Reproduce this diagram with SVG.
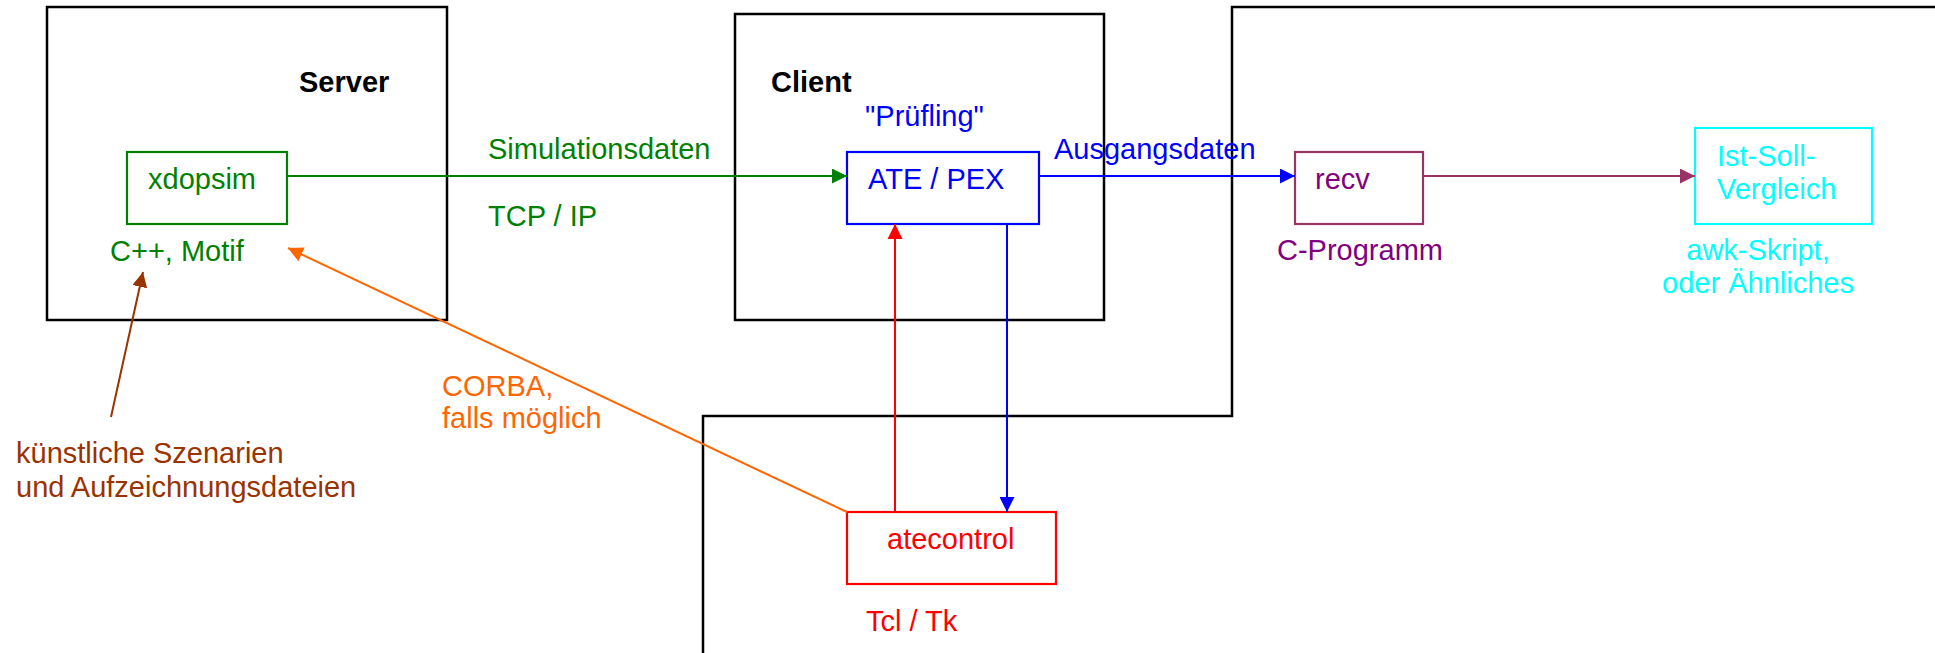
<svg xmlns="http://www.w3.org/2000/svg" width="1935" height="653" viewBox="0 0 1935 653">
<style>
text{font-family:"Liberation Sans",Arial,sans-serif;font-size:29px}
.b{font-weight:bold;fill:#000}
.frame{fill:none;stroke:#000;stroke-width:2.5}
.box{fill:none;stroke-width:2.2}
.c{fill:none;stroke-width:2}
</style>
<defs>
<marker id="aG" viewBox="0 0 15 15" refX="15" refY="7.5" markerWidth="15" markerHeight="15" markerUnits="userSpaceOnUse" orient="auto"><path d="M0,0L15,7.5L0,15z" fill="#008000"/></marker>
<marker id="aB" viewBox="0 0 15 15" refX="15" refY="7.5" markerWidth="15" markerHeight="15" markerUnits="userSpaceOnUse" orient="auto"><path d="M0,0L15,7.5L0,15z" fill="#0000ff"/></marker>
<marker id="aR" viewBox="0 0 15 15" refX="15" refY="7.5" markerWidth="15" markerHeight="15" markerUnits="userSpaceOnUse" orient="auto"><path d="M0,0L15,7.5L0,15z" fill="#ff0000"/></marker>
<marker id="aP" viewBox="0 0 15 15" refX="15" refY="7.5" markerWidth="15" markerHeight="15" markerUnits="userSpaceOnUse" orient="auto"><path d="M0,0L15,7.5L0,15z" fill="#993366"/></marker>
<marker id="aO" viewBox="0 0 15 15" refX="15" refY="7.5" markerWidth="15" markerHeight="15" markerUnits="userSpaceOnUse" orient="auto"><path d="M0,0L15,7.5L0,15z" fill="#ff6600"/></marker>
<marker id="aBr" viewBox="0 0 15 15" refX="15" refY="7.5" markerWidth="15" markerHeight="15" markerUnits="userSpaceOnUse" orient="auto"><path d="M0,0L15,7.5L0,15z" fill="#993300"/></marker>
</defs>

<g id="server">
<rect class="frame" x="47" y="7" width="400" height="313"/>
<text class="b" x="299" y="92">Server</text>
</g>
<g id="client">
<rect class="frame" x="735" y="14" width="369" height="306"/>
<text class="b" x="771" y="92">Client</text>
</g>
<g id="test-area">
<path class="frame" d="M1937,7H1232V416H703V655"/>
</g>

<g id="xdopsim">
<rect class="box" x="127" y="152" width="160" height="72" stroke="#008000"/>
<text x="148" y="189" fill="#008000">xdopsim</text>
<text x="110" y="261" fill="#008000">C++, Motif</text>
</g>
<g id="ate-pex">
<text x="865" y="126" fill="#0000ff">"Prüfling"</text>
<rect class="box" x="847" y="152" width="192" height="72" stroke="#0000ff"/>
<text x="868" y="189" fill="#0000ff">ATE / PEX</text>
</g>
<g id="recv">
<rect class="box" x="1295" y="152" width="128" height="72" stroke="#993366"/>
<text x="1315" y="189" fill="#800080">recv</text>
<text x="1277" y="260" fill="#800080">C-Programm</text>
</g>
<g id="ist-soll">
<rect class="box" x="1695" y="128" width="177" height="96" stroke="#00ffff"/>
<text x="1717" y="166" fill="#00ffff">Ist-Soll-</text>
<text x="1717" y="199" fill="#00ffff">Vergleich</text>
<text x="1758" y="260" fill="#00ffff" text-anchor="middle">awk-Skript,</text>
<text x="1758" y="293" fill="#00ffff" text-anchor="middle">oder Ähnliches</text>
</g>
<g id="atecontrol">
<rect class="box" x="847" y="512" width="209" height="72" stroke="#ff0000"/>
<text x="887" y="549" fill="#ff0000">atecontrol</text>
<text x="866" y="631" fill="#ff0000">Tcl / Tk</text>
</g>
<g id="scenarios">
<text x="16" y="463" fill="#993300">künstliche Szenarien</text>
<text x="16" y="497" fill="#993300">und Aufzeichnungsdateien</text>
</g>

<g id="connectors">
<line class="c" x1="287" y1="176" x2="847" y2="176" stroke="#008000" marker-end="url(#aG)"/>
<text x="488" y="159" fill="#008000">Simulationsdaten</text>
<text x="488" y="226" fill="#008000">TCP / IP</text>
<line class="c" x1="1039" y1="176" x2="1295" y2="176" stroke="#0000ff" marker-end="url(#aB)"/>
<text x="1054" y="159" fill="#0000ff">Ausgangsdaten</text>
<line class="c" x1="1423" y1="176" x2="1695" y2="176" stroke="#993366" marker-end="url(#aP)"/>
<line class="c" x1="895" y1="512" x2="895" y2="224" stroke="#ff0000" marker-end="url(#aR)"/>
<line class="c" x1="1007" y1="224" x2="1007" y2="512" stroke="#0000ff" marker-end="url(#aB)"/>
<line class="c" x1="847" y1="512" x2="288" y2="248" stroke="#ff6600" marker-end="url(#aO)"/>
<text x="442" y="396" fill="#ff6600">CORBA,</text>
<text x="442" y="428" fill="#ff6600">falls möglich</text>
<line class="c" x1="111" y1="417" x2="143" y2="272" stroke="#993300" marker-end="url(#aBr)"/>
</g>
</svg>
